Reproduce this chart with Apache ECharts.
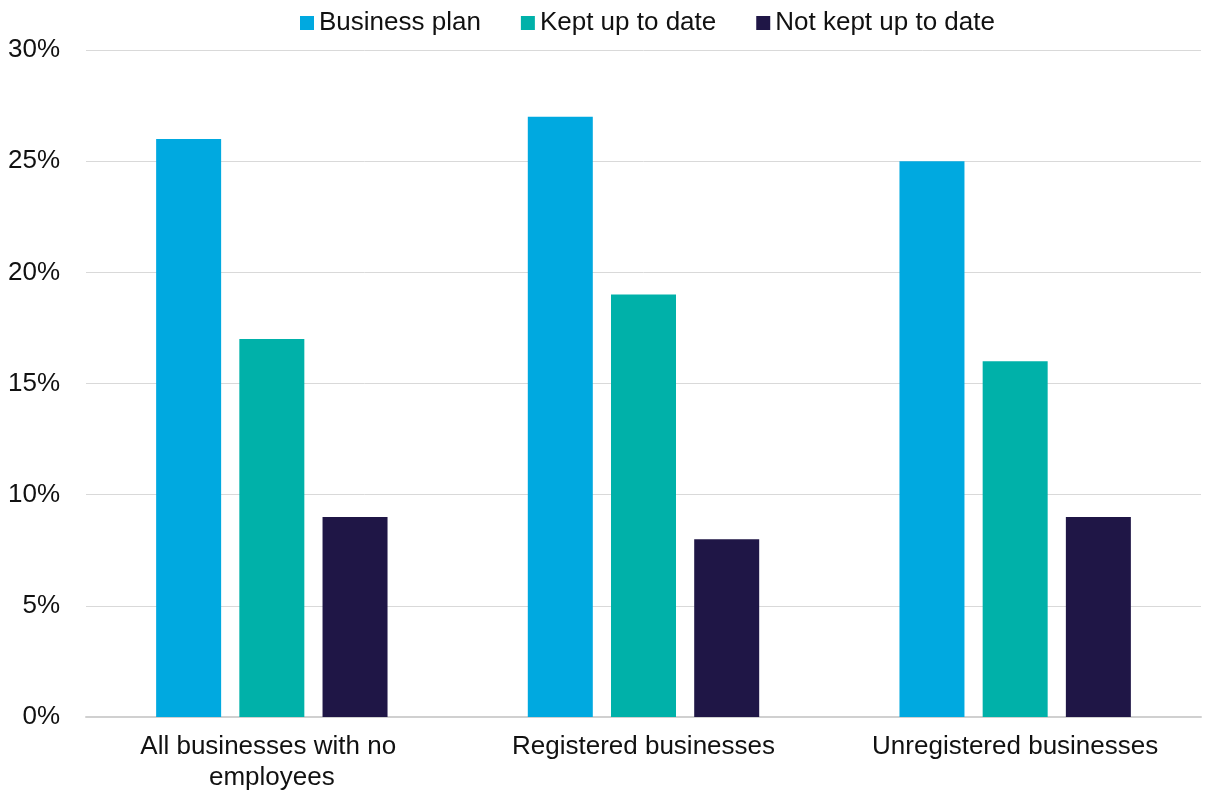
<!DOCTYPE html>
<html>
<head>
<meta charset="utf-8">
<script src="https://cdn.jsdelivr.net/npm/echarts@6/dist/echarts.min.js"></script>
<style>
  html, body { margin: 0; padding: 0; background: #ffffff; }
  #chart { width: 1205px; height: 803px; }
</style>
</head>
<body>
<div id="chart"></div>
<script>
// Business groups along the x axis
const categories = ['All businesses with no employees', 'Registered businesses', 'Unregistered businesses'];

// Share of businesses (%) in each group
const businessPlan = [26, 27, 25];
const keptUpToDate = [17, 19, 16];
const notKeptUpToDate = [9, 8, 9];

const seriesNames = ['Business plan', 'Kept up to date', 'Not kept up to date'];
const seriesColors = ['#00A9E0', '#00B1A9', '#1F1646'];

const chart = echarts.init(document.getElementById('chart'));
const font = 'Liberation Sans, Arial, sans-serif';

const values = [businessPlan, keptUpToDate, notKeptUpToDate];

chart.setOption({
  animation: false,
  textStyle: { fontFamily: font },
  legend: {
    top: 5,
    left: 295,
    itemWidth: 14,
    itemHeight: 14,
    itemGap: 40,
    icon: 'rect',
    textStyle: { fontSize: 26, color: '#111111', fontFamily: font },
    data: seriesNames
  },
  grid: { left: 86, right: 4, top: 50, bottom: 86 },
  xAxis: {
    type: 'category',
    data: categories,
    axisTick: { show: false },
    axisLine: { lineStyle: { color: '#d0d0d0', width: 2 } },
    axisLabel: {
      fontSize: 26,
      color: '#111111',
      fontFamily: font,
      margin: 14,
      lineHeight: 31,
      width: 330,
      overflow: 'break',
      interval: 0
    }
  },
  yAxis: {
    type: 'value',
    min: 0,
    max: 30,
    interval: 5,
    axisLine: { show: false },
    axisTick: { show: false },
    splitLine: { lineStyle: { color: '#d9d9d9', width: 1 } },
    axisLabel: {
      fontSize: 26,
      color: '#111111',
      fontFamily: font,
      margin: 26,
      formatter: '{value}%'
    }
  },
  series: seriesNames.map((name, i) => ({
    name: name,
    type: 'bar',
    data: values[i],
    barWidth: 65,
    barGap: '28%',
    itemStyle: { color: seriesColors[i] }
  }))
});
</script>
</body>
</html>
